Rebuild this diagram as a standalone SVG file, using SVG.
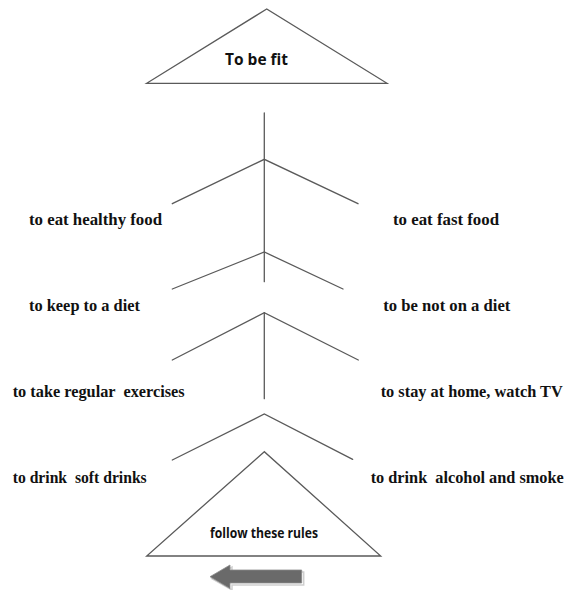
<svg xmlns="http://www.w3.org/2000/svg" width="566" height="590" viewBox="0 0 566 590">
<style>
.ln{stroke:#5a5a5a;stroke-width:1.3;fill:none;stroke-linecap:round}
.tri{stroke:#5a5a5a;stroke-width:1.3;fill:#fff;stroke-linejoin:miter}
.lab{font-family:"Liberation Serif","Times New Roman",serif;font-weight:bold;font-size:16.5px;fill:#111;white-space:pre}
.sans{font-family:"Open Sans","Liberation Sans",Arial,sans-serif;font-weight:bold;fill:#111;text-anchor:start}
</style>
<rect width="566" height="590" fill="#fff"/>
<g id="top">
<polygon class="tri" points="266.7,9 146.7,83.3 387,83.3"/>
<text class="sans" x="225" y="65" font-size="16.5" textLength="63" lengthAdjust="spacingAndGlyphs">To be fit</text>
</g>
<g id="connectors">
<line class="ln" x1="264.3" y1="113" x2="264.3" y2="281.7"/>
<polyline class="ln" points="172.3,203.7 264.3,159.3 358,203.7"/>
<polyline class="ln" points="172.3,289 264.3,252 343,289"/>
<polyline class="ln" points="172.3,360 264.3,312.7 358.3,360"/>
<line class="ln" x1="264.3" y1="312.7" x2="264.3" y2="398.7"/>
<polyline class="ln" points="172.3,460 264.3,414 352.7,459.3"/>
</g>
<g id="labels-left">
<text class="lab" x="29" y="225" textLength="133" lengthAdjust="spacingAndGlyphs">to eat healthy food</text>
<text class="lab" x="29" y="311" textLength="111" lengthAdjust="spacingAndGlyphs">to keep to a diet</text>
<text class="lab" x="12.7" y="397" textLength="172" lengthAdjust="spacingAndGlyphs">to take regular  exercises</text>
<text class="lab" x="12.7" y="483.3" textLength="134" lengthAdjust="spacingAndGlyphs">to drink  soft drinks</text>
</g>
<g id="labels-right">
<text class="lab" x="393" y="225" textLength="106" lengthAdjust="spacingAndGlyphs">to eat fast food</text>
<text class="lab" x="383.3" y="311" textLength="127" lengthAdjust="spacingAndGlyphs">to be not on a diet</text>
<text class="lab" x="380.7" y="397" textLength="182" lengthAdjust="spacingAndGlyphs">to stay at home, watch TV</text>
<text class="lab" x="370.7" y="483.3" textLength="193" lengthAdjust="spacingAndGlyphs">to drink  alcohol and smoke</text>
</g>
<g id="bottom">
<polygon class="tri" points="264.3,451.7 146.7,556 380.7,556"/>
<text class="sans" x="210" y="537.7" font-size="13.5" textLength="108" lengthAdjust="spacingAndGlyphs">follow these rules</text>
</g>
<g id="arrow">
<polygon points="212,578.7 232,567 232,572 303.7,572 303.7,585 232,585 232,590" fill="none" stroke="#cfcfcf" stroke-width="1.5"/>
<polygon points="210,576.7 230,565 230,570 301.7,570 301.7,583 230,583 230,588.5" fill="#6a6a6a" stroke="#8a8a8a" stroke-width="0.8"/>
</g>
</svg>
